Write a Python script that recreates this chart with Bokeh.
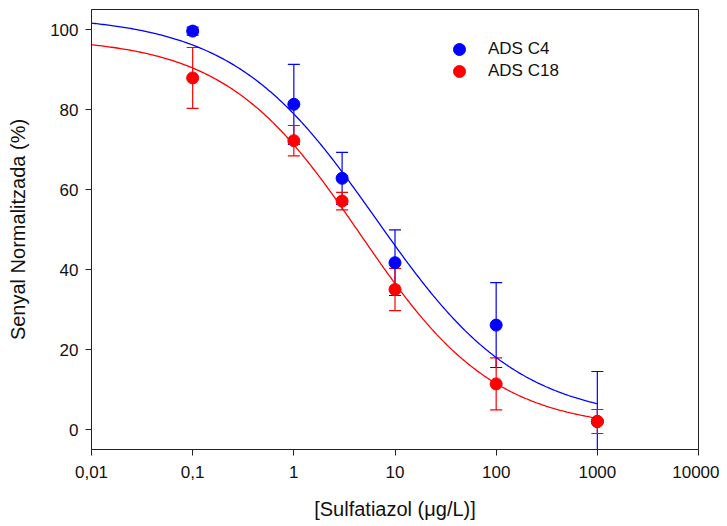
import numpy as np
from bokeh.plotting import figure
from bokeh.models import FixedTicker, Legend, LegendItem, ColumnDataSource
from bokeh.embed import file_html
from bokeh.resources import INLINE

# ---- data ----
conc = [0.1, 1, 3, 10, 100, 1000]
c4_mean = [99.6, 81.3, 62.8, 41.7, 26.1, 2.0]
c4_err = [1.0, 10.0, 6.5, 8.2, 10.6, 12.5]
c18_mean = [87.9, 72.2, 57.1, 35.0, 11.4, 2.0]
c18_err = [7.6, 3.8, 2.2, 5.3, 6.5, 3.0]

# four-parameter logistic fit parameters (top, bottom, IC50, Hill slope)
c4_fit = dict(top=103.5, bottom=2.0, ic50=6.45, hill=0.611)
c18_fit = dict(top=98.0, bottom=0.0, ic50=4.48, hill=0.65)
fit_range = (0.01, 1000)

x_ticks = [0.01, 0.1, 1, 10, 100, 1000, 10000]
x_tick_labels = ["0,01", "0,1", "1", "10", "100", "1000", "10000"]
y_ticks = [0, 20, 40, 60, 80, 100]

series_names = ["ADS C4", "ADS C18"]
colors = ["#0000FF", "#FF0000"]

FONT = "Liberation Sans"

p = figure(width=719, height=526, x_axis_type="log",
           x_range=(0.01, 10000), y_range=(-5, 105),
           output_backend="svg", toolbar_location=None,
           min_border_left=91, min_border_right=21,
           min_border_top=9, min_border_bottom=77)

p.grid.visible = False
p.outline_line_color = "#222222"
p.outline_line_width = 1
p.background_fill_color = "white"
p.border_fill_color = "white"

p.xaxis.ticker = FixedTicker(ticks=x_ticks)
p.xaxis.major_label_overrides = {t: l for t, l in zip(x_ticks, x_tick_labels)}
p.yaxis.ticker = FixedTicker(ticks=y_ticks)

for ax in (p.xaxis[0], p.yaxis[0]):
    ax.major_tick_in = 0
    ax.major_tick_out = 6
    ax.minor_tick_in = 0
    ax.minor_tick_out = 0
    ax.axis_line_color = "#222222"
    ax.major_tick_line_color = "#222222"
    ax.major_label_text_font = FONT
    ax.major_label_text_font_size = "17px"
    ax.major_label_text_color = "#111111"
    ax.axis_label_text_font = FONT
    ax.axis_label_text_font_size = "20px"
    ax.axis_label_text_font_style = "normal"
    ax.axis_label_text_color = "#111111"

p.xaxis.axis_label = "[Sulfatiazol (μg/L)]"
p.yaxis.axis_label = "Senyal Normalitzada (%)"
p.xaxis.major_label_standoff = 10
p.xaxis.axis_label_standoff = 17
p.yaxis.major_label_standoff = 7
p.yaxis.axis_label_standoff = 18

xs_fit = np.logspace(np.log10(fit_range[0]), np.log10(fit_range[1]), 300)

def logistic(x, prm):
    return prm["bottom"] + (prm["top"] - prm["bottom"]) / (1 + (x / prm["ic50"]) ** prm["hill"])

point_renderers = []
datasets = [(c4_mean, c4_err, c4_fit), (c18_mean, c18_err, c18_fit)]

# error bars
for (mean, err, _), col in zip(datasets, colors):
    m = np.array(mean); e = np.array(err)
    src = ColumnDataSource(dict(x=conc, hi=m + e, lo=m - e))
    p.segment(x0="x", y0="lo", x1="x", y1="hi", source=src, line_color=col, line_width=1.2)
    p.scatter(x="x", y="hi", source=src, marker="dash", size=12, line_color=col, line_width=1.2)
    p.scatter(x="x", y="lo", source=src, marker="dash", size=12, line_color=col, line_width=1.2)

# fitted curves
for (_, _, prm), col in zip(datasets, colors):
    p.line(xs_fit, logistic(xs_fit, prm), line_color=col, line_width=1.3)

# points
for (mean, _, _), col in zip(datasets, colors):
    r = p.scatter(conc, mean, marker="circle", size=12, fill_color=col, line_color=col)
    point_renderers.append(r)

# legend: one single-item legend per series, stacked 22px apart
legend_locs = [(353, 385), (353, 363)]
for name, r, loc in zip(series_names, point_renderers, legend_locs):
    lg = Legend(items=[LegendItem(label=name, renderers=[r])],
                location=loc, padding=0, margin=0, spacing=0,
                glyph_width=30, glyph_height=30, label_standoff=14,
                label_text_font=FONT, label_text_font_size="17px",
                label_text_color="#111111",
                border_line_alpha=0, background_fill_alpha=0)
    p.add_layout(lg)

open("out.html", "w").write(file_html(p, INLINE))
